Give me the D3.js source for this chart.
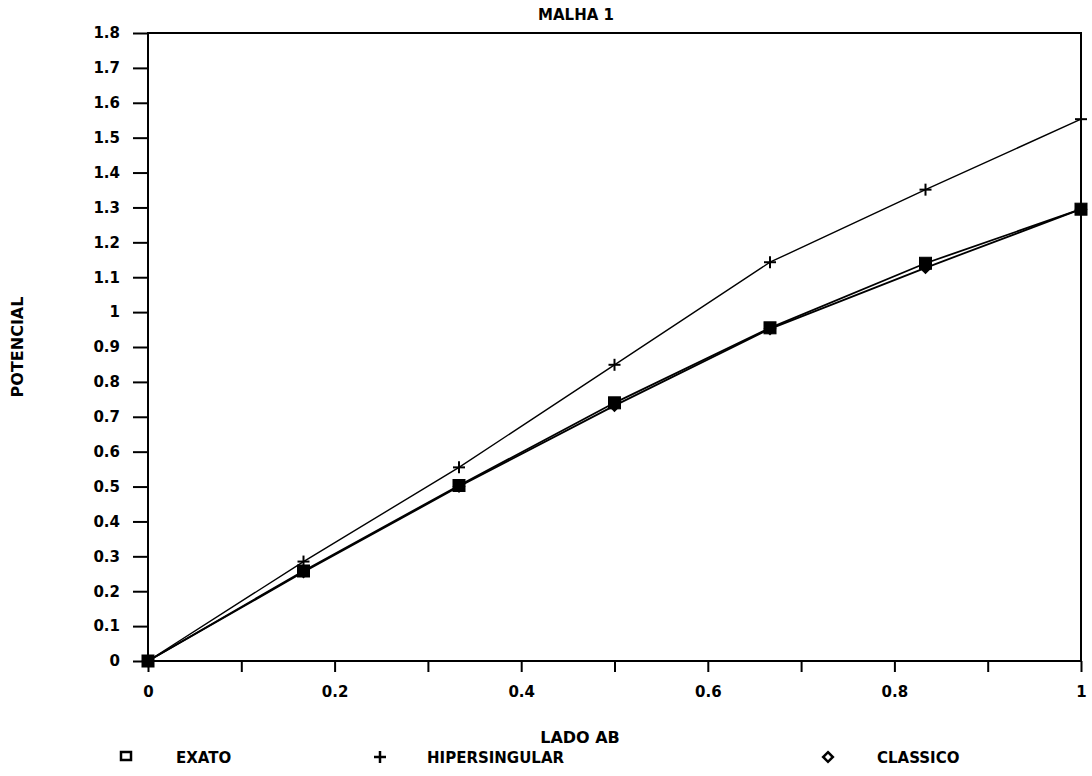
<!DOCTYPE html>
<html>
<head>
<meta charset="utf-8">
<script src="https://cdn.jsdelivr.net/npm/d3@7"></script>
<style>
  html, body { margin: 0; padding: 0; background: #fff; }
  svg { display: block; }
  text { font-family: "DejaVu Sans", sans-serif; font-weight: bold; fill: #000; }
</style>
</head>
<body>
<svg id="chart" width="1092" height="776"></svg>
<script>
const title = "MALHA 1";
const xLabel = "LADO AB";
const yLabel = "POTENCIAL";
const xValues = [0, 1/6, 2/6, 3/6, 4/6, 5/6, 1];
const exato = [0, 0.258, 0.503, 0.74, 0.955, 1.14, 1.295];
const hipersingular = [0, 0.285, 0.555, 0.849, 1.143, 1.351, 1.553];
const classico = [0, 0.255, 0.5, 0.732, 0.952, 1.127, 1.295];
const seriesNames = ["EXATO", "HIPERSINGULAR", "CLASSICO"];
const xTickLabels = ["0", "0.2", "0.4", "0.6", "0.8", "1"];
const yTickLabels = ["0","0.1","0.2","0.3","0.4","0.5","0.6","0.7","0.8","0.9","1","1.1","1.2","1.3","1.4","1.5","1.6","1.7","1.8"];

(function () {
const svg = d3.select("#chart");
const mLeft = 148, mRight = 1081, mTop = 33, mBottom = 661;
const x = d3.scaleLinear().domain([0, 1]).range([mLeft, mRight]);
const y = d3.scaleLinear().domain([0, 1.8]).range([mBottom, mTop]);

// frame
svg.append("rect").attr("x", mLeft).attr("y", mTop)
  .attr("width", mRight - mLeft).attr("height", mBottom - mTop)
  .attr("fill", "none").attr("stroke", "#000").attr("stroke-width", 2);

// y axis
const yAxis = d3.axisLeft(y)
  .tickValues(yTickLabels.map(Number))
  .tickFormat((d, i) => yTickLabels[i])
  .tickSize(15).tickPadding(13);
const gy = svg.append("g").attr("transform", `translate(${mLeft},0)`).call(yAxis);
gy.select(".domain").remove();
gy.selectAll("line").attr("stroke", "#000").attr("stroke-width", 2);
gy.selectAll("text").style("font-size", "15px").style("font-family", "DejaVu Sans")
  .style("font-weight", "bold");

// x axis
const xTicks = d3.range(0, 11).map(i => i / 10);
const xAxis = d3.axisBottom(x)
  .tickValues(xTicks)
  .tickFormat(d => {
    const idx = xTickLabels.indexOf(String(+d.toFixed(1)));
    return idx >= 0 ? xTickLabels[idx] : "";
  })
  .tickSize(11).tickPadding(14);
const gx = svg.append("g").attr("transform", `translate(0,${mBottom})`).call(xAxis);
gx.select(".domain").remove();
gx.selectAll("line").attr("stroke", "#000").attr("stroke-width", 2);
gx.selectAll("text").style("font-size", "15px").style("font-family", "DejaVu Sans")
  .style("font-weight", "bold");

// lines
const line = d3.line().x((d, i) => x(xValues[i])).y(d => y(d));
svg.append("path").datum(classico).attr("d", line)
  .attr("fill", "none").attr("stroke", "#000").attr("stroke-width", 1.8);
svg.append("path").datum(exato).attr("d", line)
  .attr("fill", "none").attr("stroke", "#000").attr("stroke-width", 1.8);
svg.append("path").datum(hipersingular).attr("d", line)
  .attr("fill", "none").attr("stroke", "#000").attr("stroke-width", 1.4);

// markers
const sq = 12;
svg.append("g").selectAll("rect").data(exato).join("rect")
  .attr("x", (d, i) => x(xValues[i]) - sq / 2)
  .attr("y", d => y(d) - sq / 2)
  .attr("width", sq).attr("height", sq)
  .attr("fill", "#000").attr("stroke", "#000").attr("stroke-width", 1);
const diamond = d3.symbol().type(d3.symbolDiamond2).size(110);
svg.append("g").selectAll("path").data(classico).join("path")
  .attr("d", diamond)
  .attr("transform", (d, i) => `translate(${x(xValues[i])},${y(d)})`)
  .attr("fill", "#000");
svg.append("g").selectAll("g").data(hipersingular).join("g")
  .attr("transform", (d, i) => `translate(${x(xValues[i])},${y(d)})`)
  .each(function() {
    const g = d3.select(this);
    g.append("line").attr("x1", -6).attr("x2", 6).attr("y1", 0).attr("y2", 0)
      .attr("stroke", "#000").attr("stroke-width", 2);
    g.append("line").attr("x1", 0).attr("x2", 0).attr("y1", -6).attr("y2", 6)
      .attr("stroke", "#000").attr("stroke-width", 2);
  });

// title
svg.append("text").attr("x", 576).attr("y", 20).attr("text-anchor", "middle")
  .style("font-size", "15px").text(title);

// axis labels
svg.append("text").attr("x", 580).attr("y", 743).attr("text-anchor", "middle")
  .style("font-size", "16px").text(xLabel);
svg.append("text").attr("transform", "translate(23,347) rotate(-90)")
  .attr("text-anchor", "middle").style("font-size", "16px").text(yLabel);

// legend
const legY = 757;
const legG = svg.append("g");
legG.append("rect").attr("x", 121).attr("y", legY - 5).attr("width", 10).attr("height", 8)
  .attr("fill", "none").attr("stroke", "#000").attr("stroke-width", 2.5);
legG.append("text").attr("x", 176).attr("y", legY + 6).style("font-size", "15px").text(seriesNames[0]);
legG.append("line").attr("x1", 374).attr("x2", 386).attr("y1", legY).attr("y2", legY)
  .attr("stroke", "#000").attr("stroke-width", 2.5);
legG.append("line").attr("x1", 380).attr("x2", 380).attr("y1", legY - 6).attr("y2", legY + 6)
  .attr("stroke", "#000").attr("stroke-width", 2.5);
legG.append("text").attr("x", 427).attr("y", legY + 6).style("font-size", "15px").text(seriesNames[1]);
legG.append("path").attr("d", d3.symbol().type(d3.symbolDiamond2).size(60)())
  .attr("transform", `translate(828,${legY})`)
  .attr("fill", "none").attr("stroke", "#000").attr("stroke-width", 2.5);
legG.append("text").attr("x", 877).attr("y", legY + 6).style("font-size", "15px").text(seriesNames[2]);
})();
</script>
</body>
</html>
